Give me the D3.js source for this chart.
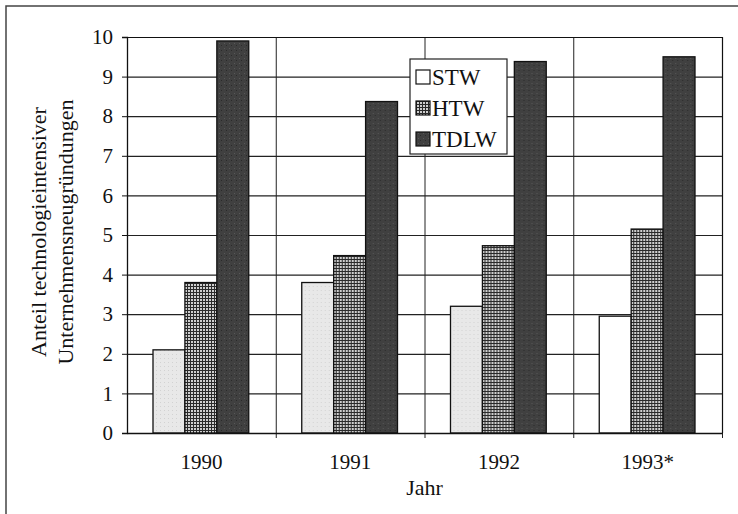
<!DOCTYPE html>
<html>
<head>
<meta charset="utf-8">
<script src="https://cdn.jsdelivr.net/npm/d3@7"></script>
<style>
  body { margin: 0; background: #fff; }
  text { font-family: "Liberation Serif", "Times New Roman", serif; fill: #111; }
</style>
</head>
<body>
<div id="chart"></div>
<script>
// Anteil technologieintensiver Unternehmensneugründungen

var years = ["1990", "1991", "1992", "1993*"];
var seriesNames = ["STW", "HTW", "TDLW"];
var stw = [2.1, 3.8, 3.2, 2.95];
var htw = [3.8, 4.48, 4.73, 5.15];
var tdlw = [9.9, 8.37, 9.38, 9.5];
var yTicks = [0, 1, 2, 3, 4, 5, 6, 7, 8, 9, 10];

var width = 738,
    height = 514,
    margin = {top: 37, right: 16, bottom: 81, left: 127};

var svg = d3.select("#chart")
    .append("svg")
    .attr("width", width)
    .attr("height", height);

var defs = svg.append("defs");

// light dotted fill for STW
var pStw = defs.append("pattern").attr("id", "pStw")
    .attr("patternUnits", "userSpaceOnUse").attr("width", 4).attr("height", 4);
pStw.append("rect").attr("width", 4).attr("height", 4).attr("fill", "#e8e8e8");
pStw.append("rect").attr("x", 1).attr("y", 1).attr("width", 1).attr("height", 1).attr("fill", "#d2d2d2");

// grid fill for HTW
var pHtw = defs.append("pattern").attr("id", "pHtw")
    .attr("patternUnits", "userSpaceOnUse").attr("width", 3).attr("height", 3);
pHtw.append("rect").attr("width", 3).attr("height", 3).attr("fill", "#cfcfcf");
pHtw.append("rect").attr("width", 3).attr("height", 1).attr("fill", "#2a2a2a");
pHtw.append("rect").attr("width", 1).attr("height", 3).attr("fill", "#2a2a2a");

// dark fill for TDLW
var pTd = defs.append("pattern").attr("id", "pTd")
    .attr("patternUnits", "userSpaceOnUse").attr("width", 5).attr("height", 5);
pTd.append("rect").attr("width", 5).attr("height", 5).attr("fill", "#404040");
pTd.append("rect").attr("x", 2).attr("y", 1).attr("width", 1).attr("height", 1).attr("fill", "#585858");
pTd.append("rect").attr("x", 4).attr("y", 3).attr("width", 1).attr("height", 1).attr("fill", "#2a2a2a");

var fills = {STW: "url(#pStw)", HTW: "url(#pHtw)", TDLW: "url(#pTd)"};

// outer frame of the figure
svg.append("path")
    .attr("d", "M6," + height + "V6H" + width)
    .attr("fill", "none")
    .attr("stroke", "#444")
    .attr("stroke-width", 1.5);

var w = width - margin.left - margin.right,
    h = height - margin.top - margin.bottom;

var g = svg.append("g")
    .attr("transform", "translate(" + margin.left + "," + margin.top + ")");

var x0 = d3.scaleBand().domain(years).range([0, w]).paddingInner(0).paddingOuter(0);
var x1 = d3.scaleBand().domain(seriesNames).range([26, x0.bandwidth() - 27]);
var y = d3.scaleLinear().domain([0, 10]).range([h, 0]);

// horizontal grid lines
g.append("g").selectAll("line")
    .data(yTicks.slice(1))
    .enter().append("line")
    .attr("x1", 0).attr("x2", w)
    .attr("y1", function(d) { return y(d) + 0.5; })
    .attr("y2", function(d) { return y(d) + 0.5; })
    .attr("stroke", "#222")
    .attr("stroke-width", 1.2);

// vertical separators
g.append("g").selectAll("line")
    .data(years.slice(1).concat(["end"]))
    .enter().append("line")
    .attr("x1", function(d, i) { return x0.bandwidth() * (i + 1) + 0.5; })
    .attr("x2", function(d, i) { return x0.bandwidth() * (i + 1) + 0.5; })
    .attr("y1", 0).attr("y2", h + 5)
    .attr("stroke", "#222")
    .attr("stroke-width", 1);

var rows = years.map(function(yr, i) {
  return {year: yr, values: [
    {key: "STW", value: stw[i]},
    {key: "HTW", value: htw[i]},
    {key: "TDLW", value: tdlw[i]}
  ]};
});

var groups = g.selectAll(".grp")
    .data(rows)
    .enter().append("g")
    .attr("class", "grp")
    .attr("transform", function(d) { return "translate(" + x0(d.year) + ",0)"; });

groups.selectAll("rect")
    .data(function(d) { return d.values.map(function(v) { v.year = d.year; return v; }); })
    .enter().append("rect")
    .attr("x", function(d) { return x1(d.key); })
    .attr("width", x1.bandwidth())
    .attr("y", function(d) { return y(d.value); })
    .attr("height", function(d) { return h - y(d.value); })
    .attr("fill", function(d) { return (d.key === "STW" && d.year === "1993*") ? "#fff" : fills[d.key]; })
    .attr("stroke", "#111")
    .attr("stroke-width", 1.3);

// y axis
var yAxis = g.append("g")
    .call(d3.axisLeft(y).tickValues(yTicks).tickSize(5).tickPadding(9).tickFormat(d3.format("d")));
yAxis.select(".domain").attr("stroke", "#111").attr("stroke-width", 1.3);
yAxis.selectAll(".tick line").attr("stroke", "#111");
yAxis.selectAll("text").style("font-size", "21px").style("font-family", "Liberation Serif");

// x axis
var xAxis = g.append("g")
    .attr("transform", "translate(0," + h + ")")
    .call(d3.axisBottom(x0).tickSize(0).tickPadding(21));
xAxis.select(".domain").attr("stroke", "#111").attr("stroke-width", 1.3);
xAxis.selectAll("text").style("font-size", "21px").style("font-family", "Liberation Serif");

// top and right plot border
g.append("path")
    .attr("d", "M0,0.5H" + (w + 0.5) + "V" + h)
    .attr("fill", "none")
    .attr("stroke", "#111")
    .attr("stroke-width", 1.2);

// axis titles
svg.append("text")
    .attr("x", margin.left + w / 2)
    .attr("y", 495)
    .attr("text-anchor", "middle")
    .style("font-size", "22px")
    .text("Jahr");

var yt = svg.append("text")
    .attr("transform", "translate(46,232) rotate(-90)")
    .attr("text-anchor", "middle")
    .style("font-size", "22px");
yt.append("tspan").attr("x", 0).attr("y", 0).text("Anteil technologieintensiver");
yt.append("tspan").attr("x", 0).attr("y", 27).text("Unternehmensneugründungen");

// legend
var leg = svg.append("g").attr("transform", "translate(410,59)");
leg.append("rect")
    .attr("width", 97).attr("height", 95)
    .attr("fill", "#fff")
    .attr("stroke", "#222")
    .attr("stroke-width", 1.2);

var li = leg.selectAll(".li")
    .data(seriesNames)
    .enter().append("g")
    .attr("class", "li")
    .attr("transform", function(d, i) { return "translate(6," + (11 + i * 31) + ")"; });

li.append("rect")
    .attr("width", 14).attr("height", 14)
    .attr("fill", function(d) { return d === "STW" ? "#fff" : fills[d]; })
    .attr("stroke", "#111")
    .attr("stroke-width", 1.2);

li.append("text")
    .attr("x", 16)
    .attr("y", 15)
    .style("font-size", "23px")
    .text(function(d) { return d; });
</script>
</body>
</html>
